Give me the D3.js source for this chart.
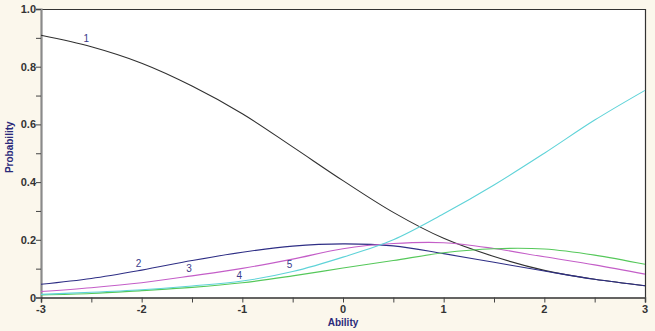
<!DOCTYPE html>
<html>
<head>
<meta charset="utf-8">
<script src="https://cdn.jsdelivr.net/npm/d3@7"></script>
<style>
  html, body { margin: 0; padding: 0; background: #fbf7ec; }
  svg { display: block; }
  .tick-label { font-family: "Liberation Sans", Arial, sans-serif; font-size: 11px; font-weight: bold; fill: #333; }
  .axis-title { font-family: "Liberation Sans", Arial, sans-serif; font-size: 10px; font-weight: bold; fill: #2a2a7a; }
  .curve-label { font-family: "Liberation Sans", Arial, sans-serif; font-size: 10px; fill: #3a3a8a; }
</style>
</head>
<body>
<script>
// Ability grid (theta) and category response probabilities
const theta = [-3, -2.5, -2, -1.5, -1, -0.5, 0, 0.5, 1, 1.5, 2, 2.5, 3];
const cat1 = [0.909, 0.869, 0.812, 0.733, 0.637, 0.522, 0.405, 0.295, 0.205, 0.142, 0.094, 0.063, 0.041];
const cat2 = [0.046, 0.066, 0.095, 0.128, 0.157, 0.178, 0.186, 0.179, 0.152, 0.122, 0.092, 0.063, 0.041];
const cat3 = [0.021, 0.034, 0.051, 0.075, 0.101, 0.133, 0.169, 0.187, 0.190, 0.170, 0.141, 0.113, 0.081];
const cat4 = [0.009, 0.014, 0.024, 0.035, 0.051, 0.075, 0.102, 0.128, 0.155, 0.169, 0.168, 0.147, 0.115];
const cat5 = [0.011, 0.018, 0.027, 0.040, 0.057, 0.090, 0.140, 0.200, 0.290, 0.390, 0.500, 0.615, 0.718];
const categoryNames = ["1", "2", "3", "4", "5"];
const categoryColors = ["#303030", "#2e2e85", "#c45ec8", "#55c85a", "#5fd3d8"];
const labelTheta = [-2.55, -2.03, -1.53, -1.03, -0.53];
const xTicks = [-3, -2, -1, 0, 1, 2, 3];
const yTicks = [0, 0.2, 0.4, 0.6, 0.8, 1.0];
const yTickText = ["0", "0.2", "0.4", "0.6", "0.8", "1.0"];

const series = [cat1, cat2, cat3, cat4, cat5];

const W = 655, H = 331;
const plot = { left: 41, right: 645, top: 9, bottom: 297.5 };

const svg = d3.select("body").append("svg").attr("width", W).attr("height", H);

const x = d3.scaleLinear().domain([-3, 3]).range([plot.left, plot.right]);
const y = d3.scaleLinear().domain([0, 1]).range([plot.bottom, plot.top]);

// plot area
svg.append("rect")
  .attr("x", plot.left).attr("y", plot.top)
  .attr("width", plot.right - plot.left).attr("height", plot.bottom - plot.top)
  .attr("fill", "#ffffff");

// frame: top and right edges
svg.append("path")
  .attr("d", `M${plot.left},${plot.top + 0.5}H${plot.right + 0.5}V${plot.bottom}`)
  .attr("fill", "none").attr("stroke", "#333").attr("stroke-width", 1.2);

// y axis with minor ticks
const yAxis = d3.axisLeft(y)
  .tickValues(d3.range(0, 1.0001, 0.1))
  .tickSize(5)
  .tickFormat(() => "");
const gy = svg.append("g").attr("transform", `translate(${plot.left},0)`).call(yAxis);
gy.select(".domain").attr("stroke", "#8a8a8a").attr("stroke-width", 2.2);
gy.selectAll(".tick line").attr("stroke", "#444");

gy.selectAll(".major")
  .data(yTicks)
  .enter().append("text")
  .attr("class", "tick-label")
  .attr("x", -5)
  .attr("y", d => y(d) + 4)
  .attr("text-anchor", "end")
  .text((d, i) => yTickText[i]);

// x axis with minor ticks
const xAxis = d3.axisBottom(x)
  .tickValues(d3.range(-3, 3.0001, 0.5))
  .tickSize(5)
  .tickFormat(() => "");
const gx = svg.append("g").attr("transform", `translate(0,${plot.bottom})`).call(xAxis);
gx.select(".domain").attr("stroke", "#333").attr("stroke-width", 1.5);
gx.selectAll(".tick line").attr("stroke", "#444");

gx.selectAll(".major")
  .data(xTicks)
  .enter().append("text")
  .attr("class", "tick-label")
  .attr("x", d => x(d))
  .attr("y", 15)
  .attr("text-anchor", "middle")
  .text(d => d);

// curves
const line = d3.line()
  .x((d, i) => x(theta[i]))
  .y(d => y(d))
  .curve(d3.curveCatmullRom.alpha(0.5));

const curves = svg.append("g");
series.forEach((vals, k) => {
  curves.append("path")
    .attr("d", line(vals))
    .attr("fill", "none")
    .attr("stroke", categoryColors[k])
    .attr("stroke-width", 1.1);
});

// category labels placed just above each curve
const interp = (vals, t) => {
  const i = Math.min(theta.length - 2, Math.max(0, Math.floor((t + 3) / 0.5)));
  const f = (t - theta[i]) / 0.5;
  return vals[i] + f * (vals[i + 1] - vals[i]);
};
series.forEach((vals, k) => {
  svg.append("text")
    .attr("class", "curve-label")
    .attr("x", x(labelTheta[k]))
    .attr("y", y(interp(vals, labelTheta[k])) - 4)
    .attr("text-anchor", "middle")
    .text(categoryNames[k]);
});

// axis titles
svg.append("text")
  .attr("class", "axis-title")
  .attr("transform", `translate(13,${(plot.top + plot.bottom) / 2 - 6}) rotate(-90)`)
  .attr("text-anchor", "middle")
  .text("Probability");

svg.append("text")
  .attr("class", "axis-title")
  .attr("x", x(0))
  .attr("y", 326)
  .attr("text-anchor", "middle")
  .text("Ability");
</script>
</body>
</html>
